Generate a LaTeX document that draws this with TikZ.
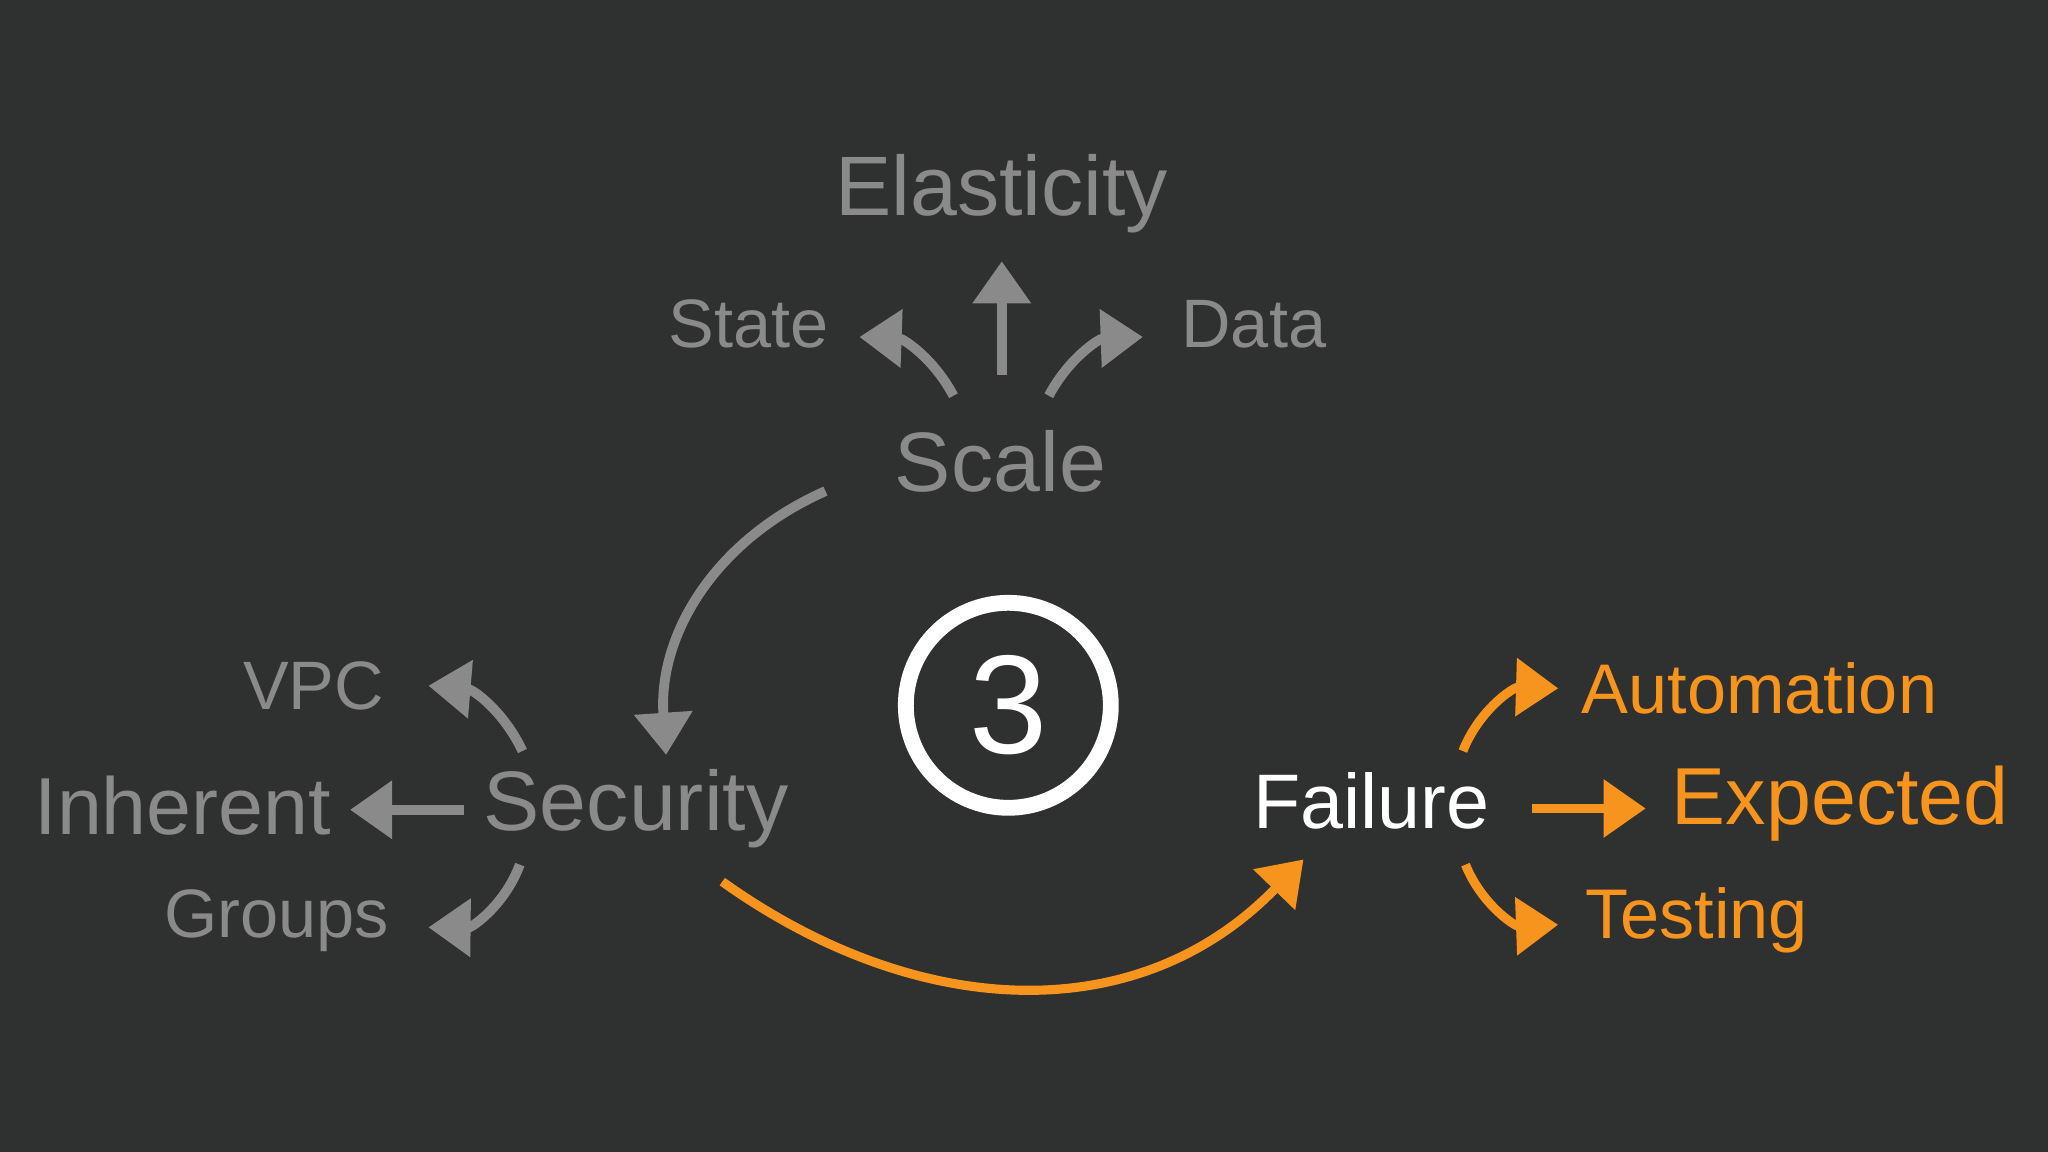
\documentclass[tikz,border=0pt]{standalone}
\usepackage{fontspec}
\setmainfont{Liberation Sans}
\usetikzlibrary{arrows.meta}
\definecolor{board}{HTML}{2F3030}
\definecolor{chalk}{HTML}{8A8A8A}
\definecolor{orng}{HTML}{F7941D}
\tikzset{
 lbl/.style={inner sep=0pt},
 garr/.style={draw=chalk,line width=2.8pt,-{Triangle[length=12pt,width=16pt]}},
 oarr/.style={draw=orng,line width=2.6pt,-{Triangle[length=12pt,width=16pt]}},
}
\begin{document}
\begin{tikzpicture}[x=0.013061cm,y=-0.013061cm]
\fill[board] (0,0) rectangle (1568,882);
\useasboundingbox (0,0) rectangle (1568,882);
\node[lbl,text=chalk,font=\fontsize{24}{28}\selectfont] (el) at (767,148) {Elasticity};
\node[lbl,text=chalk,font=\fontsize{19.5}{23}\selectfont] (st) at (573,248) {State};
\node[lbl,text=chalk,font=\fontsize{19.5}{23}\selectfont] (da) at (960,248) {Data};
\node[lbl,text=chalk,font=\fontsize{24}{28}\selectfont] (sc) at (766,353) {Scale};
\node[lbl,text=chalk,font=\fontsize{19.5}{23}\selectfont] (vpc) at (240,525) {VPC};
\node[lbl,text=chalk,font=\fontsize{23}{27}\selectfont] (inh) at (140,617) {Inherent};
\node[lbl,text=chalk,font=\fontsize{24}{28}\selectfont] (sec) at (487,619) {Security};
\node[lbl,text=chalk,font=\fontsize{19.5}{23}\selectfont] (gr) at (212,705) {Groups};
\node[lbl,text=white,font=\fontsize{22}{26}\selectfont] (fa) at (1050,613) {Failure};
\node[lbl,text=orng,font=\fontsize{20}{24}\selectfont] (au) at (1347,527) {Automation};
\node[lbl,text=orng,font=\fontsize{23}{27}\selectfont] (ex) at (1409,615) {Expected};
\node[lbl,text=orng,font=\fontsize{20}{24}\selectfont] (te) at (1299,705) {Testing};
\node[circle,draw=white,line width=4.5pt,minimum size=2.05cm,text=white,font=\fontsize{40}{44}\selectfont] (three) at (772,540) {3};
% gray arrows
\coordinate (a1) at (767,287); \coordinate (b1) at (767,200);
\draw[garr] (a1) -- (b1);
\coordinate (a2) at (730,303); \coordinate (b2) at (658,258);
\draw[garr] (a2) to[bend right=30] (b2);
\coordinate (a3) at (803,303); \coordinate (b3) at (875,258);
\draw[garr] (a3) to[bend left=30] (b3);
\coordinate (a4) at (632,376); \coordinate (b4) at (510,578);
\draw[garr] (a4) to[bend right=35] (b4);
\coordinate (a5) at (400,575); \coordinate (b5) at (328,525);
\draw[garr] (a5) to[bend right=30] (b5);
\coordinate (a6) at (355,620); \coordinate (b6) at (268,620);
\draw[garr] (a6) -- (b6);
\coordinate (a7) at (398,662); \coordinate (b7) at (328,710);
\draw[garr] (a7) to[bend left=35] (b7);
% orange arrows
\coordinate (a8) at (553,675); \coordinate (b8) at (998,658);
\draw[oarr] (a8) .. controls (700,780) and (870,790) .. (b8);
\coordinate (a9) at (1120,575); \coordinate (b9) at (1193,527);
\draw[oarr] (a9) to[bend left=35] (b9);
\coordinate (a10) at (1173,619); \coordinate (b10) at (1260,619);
\draw[oarr] (a10) -- (b10);
\coordinate (a11) at (1122,662); \coordinate (b11) at (1193,708);
\draw[oarr] (a11) to[bend right=35] (b11);
\end{tikzpicture}
\end{document}
